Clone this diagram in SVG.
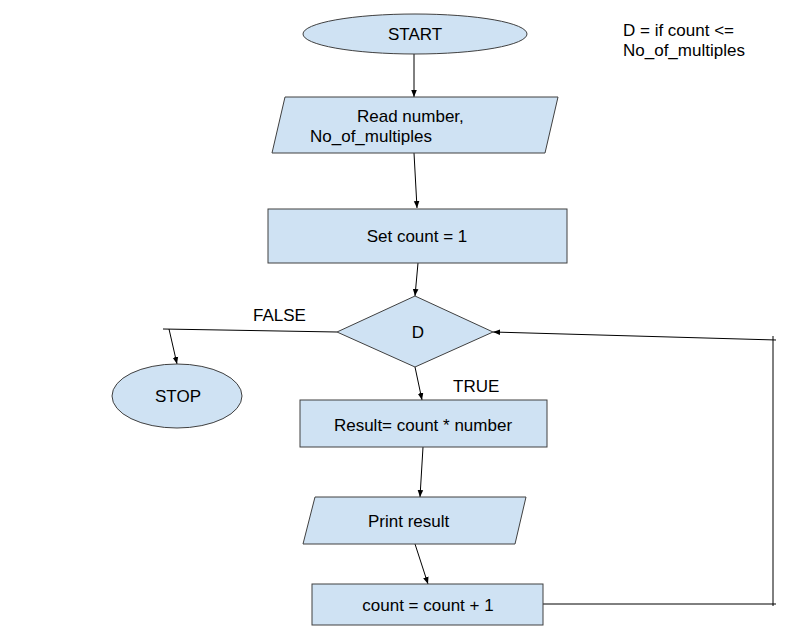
<svg xmlns="http://www.w3.org/2000/svg" width="812" height="643" viewBox="0 0 812 643">
<defs>
<style>
.n{fill:#cfe2f3;stroke:#404040;stroke-width:1}
.c{fill:none;stroke:#000;stroke-width:1}
text{font-family:"Liberation Sans",Arial,sans-serif;font-size:17px;fill:#000}
.m{text-anchor:middle}
</style>
<marker id="a" viewBox="0 0 10 10" refX="10" refY="5" markerWidth="7" markerHeight="7" orient="auto" markerUnits="userSpaceOnUse">
<path d="M0,1 L10,5 L0,9 z" fill="#000"/>
</marker>
</defs>
<rect width="812" height="643" fill="#fff"/>
<g id="connectors">
<line class="c" x1="414" y1="54" x2="414" y2="97" marker-end="url(#a)"/>
<line class="c" x1="414" y1="153" x2="417" y2="208" marker-end="url(#a)"/>
<line class="c" x1="418" y1="263" x2="415" y2="296" marker-end="url(#a)"/>
<line class="c" x1="337" y1="332" x2="163" y2="329"/>
<line class="c" x1="169" y1="329" x2="177" y2="364" marker-end="url(#a)"/>
<line class="c" x1="415" y1="367" x2="422" y2="400" marker-end="url(#a)"/>
<line class="c" x1="423" y1="447" x2="420" y2="497" marker-end="url(#a)"/>
<line class="c" x1="415" y1="544" x2="428" y2="584" marker-end="url(#a)"/>
<line class="c" x1="543" y1="604" x2="776" y2="604"/>
<line class="c" x1="773" y1="606" x2="773" y2="336"/>
<line class="c" x1="776" y1="340" x2="493" y2="332" marker-end="url(#a)"/>
</g>
<g id="start">
<ellipse class="n" cx="415" cy="34" rx="112" ry="20"/>
<text class="m" x="415" y="40">START</text>
</g>
<g id="read">
<polygon class="n" points="285,97 558,97 545,153 272,153"/>
<text x="357" y="122">Read number,</text>
<text x="310" y="142">No_of_multiples</text>
</g>
<g id="set">
<rect class="n" x="268" y="209" width="299" height="54"/>
<text class="m" x="417" y="242">Set count = 1</text>
</g>
<g id="decision">
<polygon class="n" points="415,296 493,332 415,367 337,332"/>
<text class="m" x="418" y="338">D</text>
</g>
<g id="stop">
<ellipse class="n" cx="177" cy="396" rx="65" ry="32"/>
<text class="m" x="178" y="402">STOP</text>
</g>
<g id="result">
<rect class="n" x="300" y="400" width="247" height="47"/>
<text class="m" x="423" y="431">Result= count * number</text>
</g>
<g id="print">
<polygon class="n" points="315,497 526,497 515,544 303,544"/>
<text x="368" y="527">Print result</text>
</g>
<g id="increment">
<rect class="n" x="312" y="584" width="231" height="41"/>
<text class="m" x="428" y="611">count = count + 1</text>
</g>
<g id="labels">
<text x="623" y="36">D = if count &lt;=</text>
<text x="623" y="56">No_of_multiples</text>
<text x="253" y="321">FALSE</text>
<text x="453" y="392">TRUE</text>
</g>
</svg>
